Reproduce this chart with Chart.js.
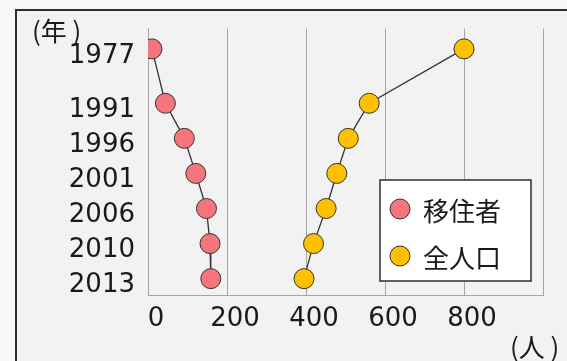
<!DOCTYPE html>
<html>
<head>
<meta charset="utf-8">
<script src="https://cdn.jsdelivr.net/npm/chart.js@4/dist/chart.umd.min.js"></script>
<style>
  html, body { margin: 0; padding: 0; background: #f8f8f8; }
  canvas { display: block; }
</style>
</head>
<body>
<canvas id="c" width="567" height="361"></canvas>
<script>
// Survey years and the row each one sits on (1977 stands a little apart)
const years = ['1977', '1991', '1996', '2001', '2006', '2010', '2013'];
const yearRow = [0, 1.55, 2.55, 3.55, 4.55, 5.55, 6.55];

// People counts per year
const migrants = [10, 44, 92, 121, 148, 157, 159];     // 移住者
const population = [800, 560, 507, 478, 451, 419, 395]; // 全人口

// Labelled ticks on the people axis
const xTicks = [0, 200, 400, 600, 800];

const seriesNames = ['移住者', '全人口'];
const seriesFill = ['#f4767c', '#ffc000'];

const FONT = "'DejaVu Sans', 'Noto Sans CJK JP', sans-serif";
const CJK = "'Noto Sans CJK JP', 'DejaVu Sans', sans-serif";
const INK = '#1a1a1a';
const GRID = '#a6a6a6';

const toPoints = vals => vals.map((v, i) => ({ x: v, y: yearRow[i] }));

const framePlugin = {
  id: 'frame',
  beforeDraw(chart) {
    const ctx = chart.ctx;
    ctx.save();
    ctx.fillStyle = '#f8f8f8';
    ctx.fillRect(0, 0, chart.width, chart.height);
    ctx.fillStyle = '#f2f2f2';
    ctx.fillRect(16, 10, chart.width - 16, chart.height - 10);
    ctx.strokeStyle = '#2e2e2e';
    ctx.lineWidth = 2;
    ctx.beginPath();
    ctx.moveTo(16, chart.height);
    ctx.lineTo(16, 10);
    ctx.lineTo(chart.width, 10);
    ctx.stroke();
    ctx.restore();
  }
};

const annotatePlugin = {
  id: 'annotate',
  afterDraw(chart) {
    const ctx = chart.ctx;
    ctx.save();
    ctx.fillStyle = INK;
    ctx.textBaseline = 'middle';
    // axis unit captions
    ctx.font = '26px ' + CJK;
    ctx.textAlign = 'left';
    ctx.fillText('(年 )', 32, 31);
    ctx.fillText('(人 )', 510, 347);

    // legend box
    const bx = 380, by = 180, bw = 151, bh = 101;
    ctx.fillStyle = '#ffffff';
    ctx.fillRect(bx, by, bw, bh);
    ctx.strokeStyle = '#2e2e2e';
    ctx.lineWidth = 1.5;
    ctx.strokeRect(bx, by, bw, bh);
    chart.data.datasets.forEach((ds, i) => {
      const cy = 209 + i * 47;
      ctx.beginPath();
      ctx.arc(400, cy, 10, 0, Math.PI * 2);
      ctx.fillStyle = ds.pointBackgroundColor;
      ctx.fill();
      ctx.lineWidth = 1;
      ctx.strokeStyle = ds.borderColor;
      ctx.stroke();
      ctx.fillStyle = INK;
      ctx.font = '26px ' + CJK;
      ctx.fillText(ds.label, 423, cy + 2);
    });
    ctx.restore();
  }
};

new Chart(document.getElementById('c'), {
  type: 'scatter',
  data: {
    datasets: [
      {
        label: seriesNames[0],
        data: toPoints(migrants),
        showLine: true,
        borderColor: '#333333',
        borderWidth: 1.3,
        pointBackgroundColor: seriesFill[0],
        pointBorderColor: '#333333',
        pointBorderWidth: 1,
        pointRadius: 10
      },
      {
        label: seriesNames[1],
        data: toPoints(population),
        showLine: true,
        borderColor: '#333333',
        borderWidth: 1.3,
        pointBackgroundColor: seriesFill[1],
        pointBorderColor: '#333333',
        pointBorderWidth: 1,
        pointRadius: 10
      }
    ]
  },
  options: {
    responsive: false,
    animation: false,
    devicePixelRatio: 1,
    layout: { padding: { top: 26, right: 24, left: 0, bottom: 0 } },
    plugins: {
      legend: { display: false },
      tooltip: { enabled: false }
    },
    scales: {
      x: {
        type: 'linear',
        min: 0,
        max: 1000,
        afterBuildTicks(scale) {
          scale.ticks = xTicks.concat([1000]).map(v => ({ value: v }));
        },
        afterFit(scale) { scale.height = 66; },
        ticks: {
          callback: v => (xTicks.includes(v) ? String(v) : ''),
          color: INK,
          font: { family: FONT, size: 26 },
          padding: 9,
          labelOffset: 8,
          maxRotation: 0,
          autoSkip: false
        },
        grid: { color: GRID, lineWidth: 1, drawTicks: false },
        border: { color: GRID, width: 1 }
      },
      y: {
        type: 'linear',
        reverse: true,
        min: -0.579,
        max: 7.016,
        afterBuildTicks(scale) {
          scale.ticks = yearRow.map(v => ({ value: v }));
        },
        afterFit(scale) { scale.width = 148; },
        ticks: {
          callback: v => years[yearRow.indexOf(v)],
          color: INK,
          font: { family: FONT, size: 26 },
          padding: 13,
          labelOffset: 7,
          autoSkip: false
        },
        grid: { display: false, drawTicks: false },
        border: { display: true, color: GRID, width: 1 }
      }
    }
  },
  plugins: [framePlugin, annotatePlugin]
});
</script>
</body>
</html>
